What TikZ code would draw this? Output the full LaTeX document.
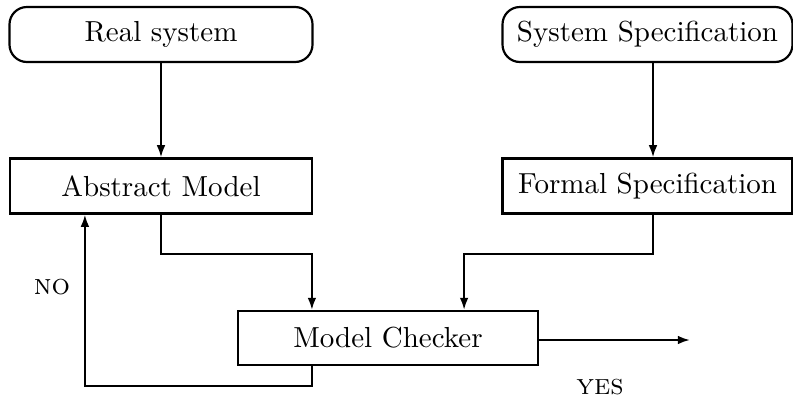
\documentclass[tikz,border=0pt]{standalone}
\usetikzlibrary{arrows.meta,calc}
\begin{document}
\begin{tikzpicture}[x=0.345pt,y=-0.345pt,
  every path/.style={line width=0.75pt},
  conn/.style={draw,line width=0.75pt,-{Latex[length=4.2pt,width=3pt]}},
  roundbox/.style={draw,line width=0.75pt,rounded corners=6pt,minimum height=55*0.345pt,inner sep=0pt},
  sqbox/.style={draw,line width=0.75pt,minimum height=55*0.345pt,inner sep=0pt},
  lbl/.style={inner sep=0pt,font=\scshape}]
\useasboundingbox (0,0) rectangle (793,401);
\node[roundbox,minimum width=303*0.345pt] (rs) at (161,34.5) {Real system};
\node[roundbox,minimum width=290*0.345pt] (ss) at (647.5,34.5) {System Specification};
\node[sqbox,minimum width=302*0.345pt] (am) at (161,186) {Abstract Model};
\node[sqbox,minimum width=290*0.345pt] (fs) at (647.5,186) {Formal Specification};
\node[sqbox,minimum width=300*0.345pt,minimum height=54*0.345pt] (mc) at (388,338) {Model Checker};
\coordinate (out) at (690,340);
\node[lbl] (no) at (52,287) {no};
\node[lbl] (yes) at (600,387) {yes};
\draw[conn] (rs) -- (am);
\draw[conn] ($(ss.south)+(5.5,0)$) -- ($(fs.north)+(5.5,0)$);
\draw[conn] (am.south) -- ++(0,39) -| ($(mc.north west)+(75,0)$);
\draw[conn] ($(fs.south)+(5.5,0)$) -- ++(0,39) -| ($(mc.north east)+(-75,0)$);
\draw[conn] (mc.east |- out) -- (out);
\draw[conn] ($(mc.south west)+(75,0)$) -- ++(0,20) -| ($(am.south west)+(76,0)$);
\end{tikzpicture}
\end{document}
